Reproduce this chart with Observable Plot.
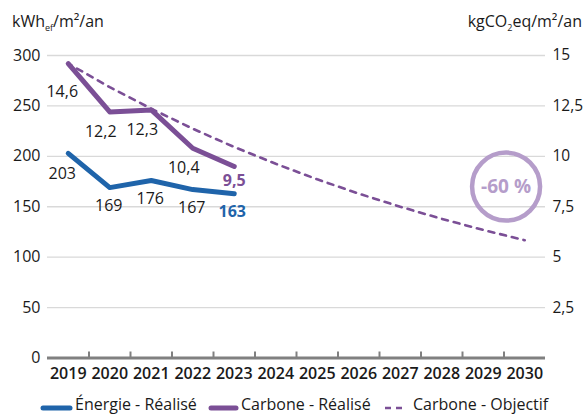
<!DOCTYPE html>
<html><head><meta charset="utf-8">
<script src="https://cdn.jsdelivr.net/npm/d3@7"></script>
<script src="https://cdn.jsdelivr.net/npm/@observablehq/plot@0.6"></script>
<style>
  html,body{margin:0;padding:0;background:#fff;}
  #chart{width:583px;height:414px;}
</style>
</head><body>
<div id="chart"></div>
<script>
// ---- data ----
const years = [2019, 2020, 2021, 2022, 2023, 2024, 2025, 2026, 2027, 2028, 2029, 2030];
const realYears = [2019, 2020, 2021, 2022, 2023];
const energie = [203, 169, 176, 167, 163];            // kWhef/m²/an
const carbone = [14.6, 12.2, 12.3, 10.4, 9.5];        // kgCO2eq/m²/an
const objectif = [14.6, 13.43, 12.36, 11.37, 10.46, 9.63, 8.86, 8.15, 7.5, 6.9, 6.35, 5.84];
const leftTicks = [0, 50, 100, 150, 200, 250, 300];
const rightTicks = [2.5, 5, 7.5, 10, 12.5, 15];
const seriesNames = ["Énergie - Réalisé", "Carbone - Réalisé", "Carbone - Objectif"];
const annotYear = [2029.55];
const annotValue = [8.5];
const annotLabel = ["-60 %"];

// ---- derived ----
const ratio = leftTicks[leftTicks.length - 1] / rightTicks[rightTicks.length - 1];
const fr = d => String(d).replace(".", ",");
const energyData = realYears.map((y, i) => ({year: y, value: energie[i]}));
const carbonData = realYears.map((y, i) => ({year: y, value: carbone[i]}));
const objData = years.map((y, i) => ({year: y, value: objectif[i]}));
const annot = annotYear.map((y, i) => ({year: y, value: annotValue[i], label: annotLabel[i]}));
const boundaries = years.slice(1).map(y => y - 0.5);
const last = a => a.slice(-1);
const first = a => a.slice(0, 1);
const middle = a => a.slice(1, -1);

const BLUE = "#1f64aa", PURPLE = "#7b4f96", LIGHT = "#b59dca", INK = "#1a1a1a";
const FONT = "'Open Sans', sans-serif";

const svg = Plot.plot({
  width: 583, height: 414,
  marginLeft: 47, marginRight: 38, marginTop: 55, marginBottom: 56.5,
  x: {type: "linear", domain: [years[0] - 0.5, years[years.length - 1] + 0.5], label: null},
  y: {domain: [leftTicks[0], leftTicks[leftTicks.length - 1]], label: null},
  style: {fontFamily: FONT, fontSize: "16px", color: INK, background: "#fff", overflow: "visible"},
  marks: [
    Plot.ruleY(leftTicks.slice(1), {stroke: "#d9d9d9", strokeWidth: 1.3}),
    Plot.axisY({ticks: leftTicks, tickSize: 0, tickPadding: 7, label: null, tickFormat: d => fr(d), fontSize: 16}),
    Plot.axisY({anchor: "right", ticks: rightTicks.map(d => d * ratio), tickSize: 0, tickPadding: 7, label: null, tickFormat: d => fr(+(d / ratio).toFixed(2)), fontSize: 15.5}),
    Plot.axisX({ticks: boundaries, tickSize: -6, tickFormat: () => "", label: null, stroke: "#808080", strokeWidth: 2}),
    Plot.axisX({ticks: years, tickSize: 0, tickPadding: 10, tickFormat: d => String(d), label: null, fontWeight: 600, fontSize: 16}),
    Plot.ruleY([0], {stroke: "#808080", strokeWidth: 3}),
    Plot.line(objData, {x: "year", y: d => d.value * ratio, stroke: PURPLE, strokeWidth: 2.6, strokeDasharray: "6,6", strokeDashoffset: -10}),
    Plot.line(carbonData, {x: "year", y: d => d.value * ratio, stroke: PURPLE, strokeWidth: 5, strokeLinejoin: "round", strokeLinecap: "round"}),
    Plot.line(energyData, {x: "year", y: "value", stroke: BLUE, strokeWidth: 5, strokeLinejoin: "round", strokeLinecap: "round"}),
    // energy labels
    Plot.text(first(energyData), {x: "year", y: "value", text: d => fr(d.value), dx: -6, dy: 21, fill: INK, fontSize: 16}),
    Plot.text(middle(energyData), {x: "year", y: "value", text: d => fr(d.value), dx: -1, dy: 18, fill: INK, fontSize: 16}),
    Plot.text(last(energyData), {x: "year", y: "value", text: d => fr(d.value), dx: -2, dy: 18, fill: BLUE, fontWeight: 700, fontSize: 16}),
    // carbon labels
    Plot.text(first(carbonData), {x: "year", y: d => d.value * ratio, text: d => fr(d.value), dx: -6, dy: 28, fill: INK, fontSize: 16}),
    Plot.text(middle(carbonData), {x: "year", y: d => d.value * ratio, text: d => fr(d.value), dx: -9, dy: 20, fill: INK, fontSize: 16}),
    Plot.text(last(carbonData), {x: "year", y: d => d.value * ratio, text: d => fr(d.value), dx: 0, dy: 14, fill: PURPLE, fontWeight: 700, fontSize: 16}),
    // annotation circle
    Plot.dot(annot, {x: "year", y: d => d.value * ratio, r: 34, stroke: LIGHT, strokeWidth: 4.5, fill: "none"}),
    Plot.text(annot, {x: "year", y: d => d.value * ratio, text: "label", fill: LIGHT, fontWeight: 700, fontSize: 19})
  ]
});
document.getElementById("chart").appendChild(svg);

// ---- axis titles and legend ----
const s = d3.select(svg);
const t1 = s.append("text").attr("x", 12).attr("y", 27).attr("text-anchor", "start").attr("fill", INK).attr("font-size", 16).attr("font-family", FONT);
t1.append("tspan").text("kWh");
t1.append("tspan").attr("font-size", 9).attr("dy", 4).text("ef");
t1.append("tspan").attr("dy", -4).text("/m²/an");

const t2 = s.append("text").attr("x", 582).attr("y", 27).attr("text-anchor", "end").attr("fill", INK).attr("font-size", 16).attr("font-family", FONT);
t2.append("tspan").text("kgCO");
t2.append("tspan").attr("font-size", 9).attr("dy", 4).text("2");
t2.append("tspan").attr("dy", -4).text("eq/m²/an");

const legY = 408;
const leg = s.append("g").attr("font-family", FONT).attr("font-size", 16).attr("fill", INK).attr("text-anchor", "start");
const items = [
  {x1: 43, x2: 70, tx: 75, color: BLUE, dash: null, w: 5},
  {x1: 211, x2: 236, tx: 241, color: PURPLE, dash: null, w: 5},
  {x1: 385, x2: 402, tx: 413, color: PURPLE, dash: "6,5", w: 2.6}
];
items.forEach((it, i) => {
  leg.append("line").attr("x1", it.x1).attr("x2", it.x2).attr("y1", legY).attr("y2", legY)
    .attr("stroke", it.color).attr("stroke-width", it.w)
    .attr("stroke-linecap", it.dash ? "butt" : "round")
    .attr("stroke-dasharray", it.dash);
  leg.append("text").attr("x", it.tx).attr("y", 410).attr("text-anchor", "start").text(seriesNames[i]);
});
</script>
</body></html>
